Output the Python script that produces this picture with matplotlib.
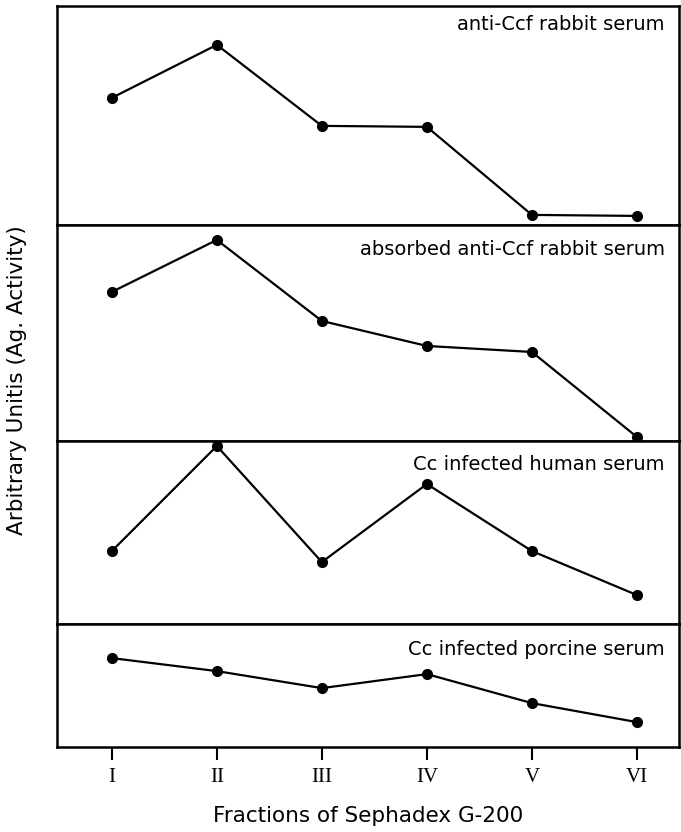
import matplotlib.pyplot as plt
import numpy as np

# fractions of Sephadex G-200
fractions = ["I", "II", "III", "IV", "V", "VI"]
x = np.arange(1, 7)

# arbitrary units
anti_ccf = [127, 180, 99, 98, 10, 9]
absorbed = [149, 201, 120, 95, 89, 4]
human = [73, 178, 62, 140, 73, 29]
porcine = [89, 76, 59, 73, 44, 25]

series = [anti_ccf, absorbed, human, porcine]
titles = ["anti-Ccf rabbit serum", "absorbed anti-Ccf rabbit serum",
          "Cc infected human serum", "Cc infected porcine serum"]
ytops = [219, 216, 183, 123]
title_y = [0.913, 0.884, 0.869, 0.797]

fig, axes = plt.subplots(4, 1, figsize=(6.81, 8.32), dpi=100, sharex=True,
                         gridspec_kw={"height_ratios": ytops})
fig.subplots_adjust(left=0.084, right=0.997, top=0.993, bottom=0.102, hspace=0)

for ax, y, t, top, ty in zip(axes, series, titles, ytops, title_y):
    ax.plot(x, y, color="black", lw=1.6, marker="o", ms=7, clip_on=False)
    ax.set_ylim(0, top)
    ax.set_xlim(0.48, 6.40)
    ax.set_yticks([])
    for s in ax.spines.values():
        s.set_linewidth(1.8)
    ax.text(0.977, ty, t, transform=ax.transAxes,
            ha="right", va="center", fontsize=14)
    ax.tick_params(axis="x", length=0)

axes[-1].set_xticks(x)
axes[-1].set_xticklabels(fractions, family="Liberation Serif", fontsize=15)
axes[-1].tick_params(axis="x", direction="out", length=9, width=1.5, pad=6)
axes[-1].set_xlabel("Fractions of Sephadex G-200", fontsize=15.5, labelpad=14)

fig.text(17 / 681, 1 - 380 / 832, "Arbitrary Unitis (Ag. Activity)",
         rotation=90, ha="center", va="center", fontsize=15.5)

fig.savefig("out.png", dpi=100)
